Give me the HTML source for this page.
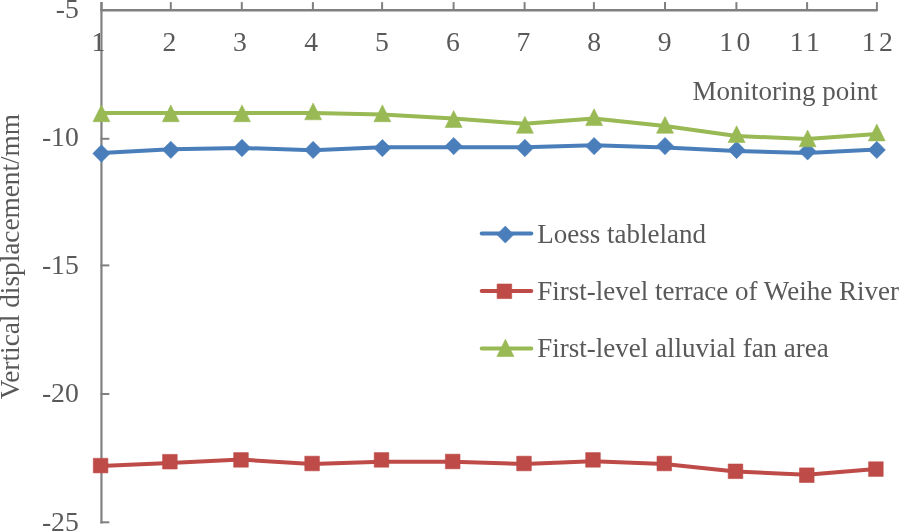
<!DOCTYPE html>
<html><head><meta charset="utf-8"><style>
html,body{margin:0;padding:0;background:#fff;width:900px;height:532px;overflow:hidden}
svg{display:block}
text{font-family:"Liberation Serif","Times New Roman",serif;font-size:27px;fill:#595959}
</style></head><body>
<svg width="900" height="532" viewBox="0 0 900 532">

<g stroke="#808080" stroke-width="2" fill="none" stroke-linecap="square">
<line x1="101.5" y1="10.2" x2="876.3" y2="10.2" stroke-width="2.4"/>
<line x1="101.45" y1="3.1" x2="101.45" y2="522.3" stroke-width="2.2"/>
<line x1="101.5" y1="3.1" x2="101.5" y2="9.9"/>
<line x1="170.8" y1="3.1" x2="170.8" y2="9.9"/>
<line x1="241.8" y1="3.1" x2="241.8" y2="9.9"/>
<line x1="312.9" y1="3.1" x2="312.9" y2="9.9"/>
<line x1="382.1" y1="3.1" x2="382.1" y2="9.9"/>
<line x1="453.6" y1="3.1" x2="453.6" y2="9.9"/>
<line x1="524.6" y1="3.1" x2="524.6" y2="9.9"/>
<line x1="593.9" y1="3.1" x2="593.9" y2="9.9"/>
<line x1="665.0" y1="3.1" x2="665.0" y2="9.9"/>
<line x1="736.4" y1="3.1" x2="736.4" y2="9.9"/>
<line x1="807.1" y1="3.1" x2="807.1" y2="9.9"/>
<line x1="876.9" y1="3.1" x2="876.9" y2="9.9"/>
<line x1="101.5" y1="138.8" x2="108.3" y2="138.8"/>
<line x1="101.5" y1="265.4" x2="108.3" y2="265.4"/>
<line x1="101.5" y1="394.0" x2="108.3" y2="394.0"/>
<line x1="101.5" y1="522.3" x2="108.3" y2="522.3"/>
</g>
<text x="78.8" y="17.6" text-anchor="end" style="font-size:27.7px">-5</text>
<text x="78.8" y="146.3" text-anchor="end" style="font-size:27.7px">-10</text>
<text x="78.8" y="274.3" text-anchor="end" style="font-size:27.7px">-15</text>
<text x="78.8" y="402.3" text-anchor="end" style="font-size:27.7px">-20</text>
<text x="78.8" y="531.2" text-anchor="end" style="font-size:27.7px">-25</text>
<text x="98.3" y="51.2" text-anchor="middle" style="font-size:27.7px">1</text>
<text x="169.5" y="51.2" text-anchor="middle" style="font-size:27.7px">2</text>
<text x="239.8" y="51.2" text-anchor="middle" style="font-size:27.7px">3</text>
<text x="311.1" y="51.2" text-anchor="middle" style="font-size:27.7px">4</text>
<text x="382.0" y="51.2" text-anchor="middle" style="font-size:27.7px">5</text>
<text x="452.8" y="51.2" text-anchor="middle" style="font-size:27.7px">6</text>
<text x="523.3" y="51.2" text-anchor="middle" style="font-size:27.7px">7</text>
<text x="594.2" y="51.2" text-anchor="middle" style="font-size:27.7px">8</text>
<text x="664.7" y="51.2" text-anchor="middle" style="font-size:27.7px">9</text>
<text x="736.6" y="51.2" text-anchor="middle" letter-spacing="3.5" style="font-size:27.7px">10</text>
<text x="806.5" y="51.2" text-anchor="middle" letter-spacing="3.5" style="font-size:27.7px">11</text>
<text x="879.0" y="51.2" text-anchor="middle" letter-spacing="3.5" style="font-size:27.7px">12</text>
<text x="692.5" y="100.3">Monitoring point</text>
<text transform="translate(19,399.3) rotate(-90)" style="font-size:27.25px">Vertical displacement/mm</text>
<polyline points="101.5,112.9 170.8,112.9 241.8,112.9 312.9,113.0 382.1,114.5 453.6,118.5 524.6,123.8 593.9,118.4 665.0,126.0 736.4,136.0 807.1,139.1 876.9,133.9" fill="none" stroke="#98b954" stroke-width="4" stroke-linejoin="round" stroke-linecap="round"/>
<polyline points="101.5,153.0 170.8,149.3 241.8,147.9 312.9,150.3 382.1,147.2 453.6,147.2 524.6,147.2 593.9,145.3 665.0,147.4 736.4,151.0 807.1,153.0 876.9,149.6" fill="none" stroke="#4a7ebb" stroke-width="4" stroke-linejoin="round" stroke-linecap="round"/>
<polyline points="100.6,465.9 169.9,463.0 241.0,459.6 312.1,464.0 381.5,461.8 452.7,461.8 524.0,464.0 593.0,461.3 664.3,464.0 735.5,471.6 806.8,474.7 875.9,468.9" fill="none" stroke="#be4b48" stroke-width="4" stroke-linejoin="round" stroke-linecap="round"/>
<g fill="#4a7ebb" stroke="#4a7ebb" stroke-width="0.6" stroke-linejoin="round">
<path d="M101.4,144.8L110.1,153.5L101.4,162.2L92.8,153.5Z"/>
<path d="M170.8,141.2L179.5,149.8L170.8,158.5L162.2,149.8Z"/>
<path d="M242.0,139.3L250.7,148.0L242.0,156.7L233.3,148.0Z"/>
<path d="M313.1,141.3L321.8,149.9L313.1,158.6L304.5,149.9Z"/>
<path d="M382.4,139.4L391.0,148.1L382.4,156.8L373.8,148.1Z"/>
<path d="M453.7,137.4L462.3,146.1L453.7,154.8L445.1,146.1Z"/>
<path d="M524.9,139.3L533.5,148.0L524.9,156.7L516.2,148.0Z"/>
<path d="M594.1,137.4L602.8,146.1L594.1,154.8L585.5,146.1Z"/>
<path d="M665.0,137.4L673.6,146.1L665.0,154.8L656.4,146.1Z"/>
<path d="M736.6,141.3L745.2,150.0L736.6,158.7L728.0,150.0Z"/>
<path d="M807.6,142.8L816.2,151.4L807.6,160.1L799.0,151.4Z"/>
<path d="M876.8,141.2L885.4,149.9L876.8,158.6L868.1,149.9Z"/>
</g>
<g fill="#be4b48" stroke="#be4b48" stroke-width="0.6" stroke-linejoin="round">
<rect x="93.3" y="458.3" width="14.6" height="14.6"/>
<rect x="162.6" y="454.4" width="14.6" height="14.6"/>
<rect x="233.7" y="452.6" width="14.6" height="14.6"/>
<rect x="304.8" y="456.2" width="14.6" height="14.6"/>
<rect x="374.2" y="452.6" width="14.6" height="14.6"/>
<rect x="445.4" y="454.2" width="14.6" height="14.6"/>
<rect x="516.7" y="456.2" width="14.6" height="14.6"/>
<rect x="585.7" y="452.6" width="14.6" height="14.6"/>
<rect x="657.0" y="456.2" width="14.6" height="14.6"/>
<rect x="728.2" y="464.0" width="14.6" height="14.6"/>
<rect x="799.5" y="467.9" width="14.6" height="14.6"/>
<rect x="868.6" y="461.8" width="14.6" height="14.6"/>
</g>
<g fill="#98b954" stroke="#98b954" stroke-width="0.6" stroke-linejoin="round">
<path d="M101.4,104.9L109.9,121.7L93.0,121.7Z"/>
<path d="M170.8,104.9L179.3,121.7L162.4,121.7Z"/>
<path d="M242.0,104.9L250.4,121.7L233.6,121.7Z"/>
<path d="M313.1,103.0L321.6,119.8L304.7,119.8Z"/>
<path d="M382.4,104.9L390.8,121.7L373.9,121.7Z"/>
<path d="M453.7,110.6L462.1,127.4L445.2,127.4Z"/>
<path d="M524.9,116.4L533.4,133.2L516.4,133.2Z"/>
<path d="M594.1,108.8L602.6,125.6L585.6,125.6Z"/>
<path d="M665.0,116.4L673.5,133.2L656.5,133.2Z"/>
<path d="M736.6,125.8L745.1,142.6L728.1,142.6Z"/>
<path d="M807.6,130.0L816.1,146.8L799.1,146.8Z"/>
<path d="M876.8,124.1L885.2,140.9L868.3,140.9Z"/>
</g>
<line x1="481.7" y1="233.55" x2="531.3" y2="233.55" stroke="#4a7ebb" stroke-width="4" stroke-linecap="round"/>
<g fill="#4a7ebb" stroke="#4a7ebb" stroke-width="0.6" stroke-linejoin="round"><path d="M505.3,226.1L513.8,234.6L505.3,243.1L496.8,234.6Z"/></g>
<text x="537.2" y="243.0">Loess tableland</text>
<line x1="481.7" y1="290.9" x2="531.3" y2="290.9" stroke="#be4b48" stroke-width="4" stroke-linecap="round"/>
<g fill="#be4b48" stroke="#be4b48" stroke-width="0.6" stroke-linejoin="round"><rect x="497.1" y="284.0" width="14.6" height="14.6"/></g>
<text x="537.2" y="299.8">First-level terrace of Weihe River</text>
<line x1="481.7" y1="348.6" x2="531.3" y2="348.6" stroke="#98b954" stroke-width="4" stroke-linecap="round"/>
<g fill="#98b954" stroke="#98b954" stroke-width="0.6" stroke-linejoin="round"><path d="M505.4,339.3L513.9,356.5L496.9,356.5Z"/></g>
<text x="537.2" y="356.8">First-level alluvial fan area</text>
</svg>
</body></html>
